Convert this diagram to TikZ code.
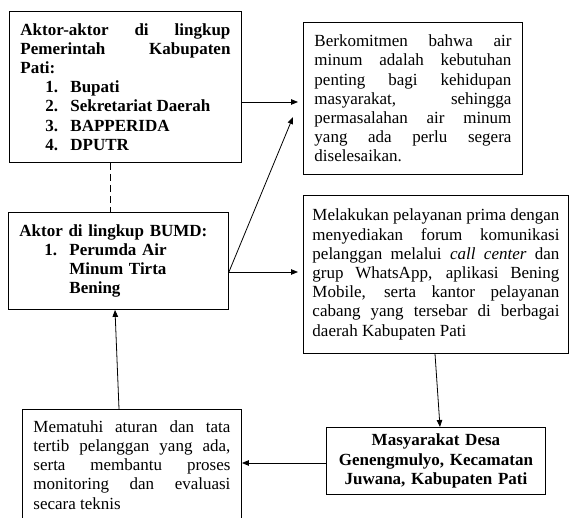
\documentclass[tikz,border=0pt]{standalone}
\usepackage{fontspec}
\setmainfont{Liberation Serif}
\usetikzlibrary{arrows.meta}
\setlength{\parindent}{0pt}
\hyphenpenalty=10000
\exhyphenpenalty=10000
\tolerance=9999
\newcommand{\listitem}[2]{\par\noindent\hspace*{25pt}\makebox[25pt][l]{#1}\parbox[t]{\dimexpr\hsize-50pt\relax}{\raggedright #2}}
\tikzset{
  kotak/.style={draw, line width=0.9pt, anchor=north west, inner xsep=11pt, inner ysep=0pt,
    align=justify, font=\fontsize{17}{19.2}\selectfont},
  panah/.style={-{Triangle[length=7pt,width=5.5pt]}, line width=0.8pt},
}
\begin{document}
\begin{tikzpicture}[x=1pt,y=-1pt]
  \useasboundingbox (0,0) rectangle (569,518);
  \node[kotak, font=\fontsize{17}{19.2}\selectfont\bfseries, text width=210pt, minimum height=151pt] (pemda) at (9,11)
    {Aktor-aktor di lingkup\linebreak Pemerintah Kabupaten\linebreak Pati:
     \listitem{1.}{Bupati}\listitem{2.}{Sekretariat Daerah}\listitem{3.}{BAPPERIDA}\listitem{4.}{DPUTR}};
  \node[kotak, text width=197pt, minimum height=152pt] (komit) at (303,22)
    {Berkomitmen bahwa air\linebreak minum adalah kebutuhan\linebreak penting bagi kehidupan\linebreak
     masyarakat, sehingga\linebreak permasalahan air minum\linebreak yang ada perlu segera\linebreak diselesaikan.};
  \node[kotak, align=left, font=\fontsize{17}{19.2}\selectfont\bfseries, text width=198pt, minimum height=97pt] (bumd) at (8,212)
    {Aktor di lingkup BUMD:\listitem{1.}{Perumda Air\\Minum Tirta\\Bening}};
  \node[kotak, inner xsep=9pt, text width=247pt, minimum height=158pt] (layan) at (303,195)
    {Melakukan pelayanan prima dengan\linebreak menyediakan forum komunikasi\linebreak
     pelanggan melalui \textit{call center} dan\linebreak grup WhatsApp, aplikasi Bening\linebreak
     Mobile, serta kantor pelayanan\linebreak cabang yang tersebar di berbagai\linebreak daerah Kabupaten Pati};
  \node[kotak, text width=197pt, minimum height=111pt] (patuh) at (22,409)
    {Mematuhi aturan dan tata\linebreak tertib pelanggan yang ada,\linebreak serta membantu proses\linebreak
     monitoring dan evaluasi\linebreak secara teknis};
  \node[kotak, align=center, font=\fontsize{17}{19.2}\selectfont\bfseries, text width=197pt, minimum height=67pt] (warga) at (326,427)
    {Masyarakat Desa\\Genengmulyo, Kecamatan\\Juwana, Kabupaten Pati};
  \coordinate (keluar) at (bumd.east |- 0,272);
  \coordinate (ujung) at (293,117);
  \draw[panah, shorten >=5pt] (pemda.east |- 0,102) -- (komit.west |- 0,102);
  \draw[dash pattern=on 7pt off 4pt, line width=0.8pt] (pemda.south -| 110,0) -- (bumd.north -| 110,0);
  \draw[panah, shorten >=5pt] (keluar) -- (layan.west |- keluar);
  \draw[panah] (keluar) -- (ujung);
  \draw[panah] (layan.south -| 435,0) -- (warga.north -| 440,0);
  \draw[panah] (warga.west |- 0,463) -- (patuh.east |- 0,463);
  \draw[panah] (patuh.north -| 119,0) -- (bumd.south -| 115,0);
\end{tikzpicture}
\end{document}
